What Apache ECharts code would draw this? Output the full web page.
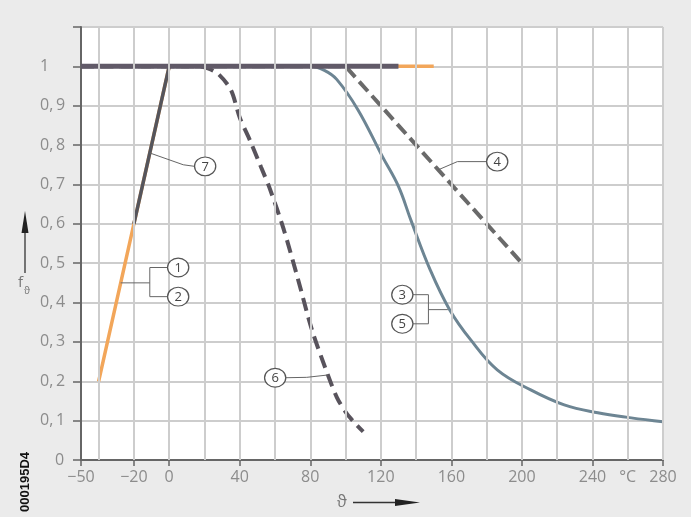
<!DOCTYPE html>
<html><head><meta charset="utf-8">
<script src="https://cdn.jsdelivr.net/npm/echarts@6/dist/echarts.min.js"></script>
<style>html,body{margin:0;padding:0;background:#ebebeb}#c{width:691px;height:517px}</style>
</head><body><div id="c"></div>
<script>
// ---- axis values ----
const xMin = -50, xMax = 280;
const xTickValues = [-50, -20, 0, 40, 80, 120, 160, 200, 240, 280];
const xLabelValues = [-50, -20, 0, 40, 80, 120, 160, 200, 240, 260, 280];
const xGridValues = [-40, -20, 0, 20, 40, 60, 80, 100, 120, 140, 160, 180, 200, 220, 240, 260, 280];
const yMin = 0, yMax = 1.1, yStep = 0.1;

// ---- curves (temperature °C, derating factor f) ----
const curve12X = [-40, 0, 150];            // ① ② orange
const curve12Y = [0.2, 1, 1];
const curve7X = [-20, 0];                  // ⑦ dark slope
const curve7Y = [0.6, 1];
const plateauX = [-50, 130];               // f = 1 plateau (⑦)
const plateauY = [1, 1];
const curve35X = [-50, 80, 88, 95, 107, 121, 130, 137, 148, 159, 171, 186, 205, 224, 243, 262, 280];
const curve35Y = [1, 1, 0.99, 0.967, 0.89, 0.77, 0.695, 0.61, 0.483, 0.382, 0.305, 0.229, 0.178, 0.14, 0.12, 0.107, 0.097];
const curve4X = [-50, 100, 200];
const curve4Y = [1, 1, 0.5];
const curve6X = [-50, 16, 22, 28, 35, 40, 46, 52, 57, 65, 73, 81, 90, 95, 100, 105, 110];
const curve6Y = [1, 1, 0.995, 0.98, 0.94, 0.87, 0.81, 0.745, 0.69, 0.585, 0.46, 0.33, 0.216, 0.16, 0.122, 0.095, 0.072];

const zip = (xs, ys) => xs.map((x, i) => [x, ys[i]]);

const FONT = 'Open Sans';
const LABEL_COLOR = '#8c8c8c';
const GRID_COLOR = '#cdcdcd';

const chart = echarts.init(document.getElementById('c'), null, {renderer: 'canvas'});

const option = {
  animation: false,
  backgroundColor: '#ebebeb',
  grid: {left: 81, right: 28, top: 27, bottom: 57, show: true, backgroundColor: '#ffffff', borderWidth: 0},
  xAxis: {
    type: 'value', min: xMin, max: xMax, interval: 10,
    axisLine: {show: true, onZero: false, lineStyle: {color: '#666', width: 2}},
    axisTick: {show: true, length: 6, customValues: xTickValues, lineStyle: {color: '#666', width: 1.5}},
    axisLabel: {
      customValues: xLabelValues, margin: 9, color: LABEL_COLOR, fontFamily: FONT, fontSize: 16,
      formatter: v => v === 260 ? '°C' : (v < 0 ? '\u2212' + Math.abs(v) : String(v))
    },
    splitLine: {show: false}
  },
  yAxis: {
    type: 'value', min: yMin, max: yMax, interval: yStep,
    axisLine: {show: true, onZero: false, lineStyle: {color: '#666', width: 2}},
    axisTick: {show: true, length: 8, lineStyle: {color: '#666', width: 1.5}},
    splitLine: {show: true, lineStyle: {color: GRID_COLOR, width: 2}},
    axisLabel: {
      margin: 41, align: 'left', color: LABEL_COLOR, fontFamily: FONT, fontSize: 16,
      formatter: v => {
        const r = Math.round(v * 10) / 10;
        if (r > 1.05) return '';
        if (r === 0) return '{z|0}';
        if (r === 1) return '1';
        return r.toFixed(1).replace('.', ',\u2009');
      },
      rich: {z: {padding: [0, 0, 0, 15], color: LABEL_COLOR, fontFamily: FONT, fontSize: 16}}
    }
  },
  series: [
    {name: 'grid', type: 'line', data: [], z: 1, silent: true,
     markLine: {silent: true, symbol: 'none', label: {show: false}, animation: false,
       lineStyle: {color: GRID_COLOR, width: 2, type: 'solid'},
       data: xGridValues.map(v => ({xAxis: v}))}},
    {name: '1/2', type: 'line', data: zip(curve12X, curve12Y), symbol: 'none', z: 2,
     lineStyle: {color: '#f2a65a', width: 3.5}},
    {name: '3/5', type: 'line', data: zip(curve35X, curve35Y), symbol: 'none', z: 3,
     smooth: 0.4, lineStyle: {color: '#6d8593', width: 3}},
    {name: '4', type: 'line', data: zip(curve4X, curve4Y), symbol: 'none', z: 3,
     lineStyle: {color: '#6a6a6a', width: 4, type: [13, 6]}},
    {name: '6', type: 'line', data: zip(curve6X, curve6Y), symbol: 'none', z: 3,
     smooth: 0.3, lineStyle: {color: '#58535c', width: 4, type: [13, 7]}},
    {name: '7', type: 'line', data: zip(curve7X, curve7Y), symbol: 'none', z: 4,
     lineStyle: {color: '#55555c', width: 3.5}},
    {name: '7 plateau', type: 'line', data: zip(plateauX, plateauY), symbol: 'none', z: 4,
     lineStyle: {color: '#615a68', width: 5}}
  ]
};
chart.setOption(option);

// ---- annotations (anchors in data units) ----
const P = (x, y) => chart.convertToPixel({seriesIndex: 1}, [x, y]);
const g = [];
const stroke = '#555';
function bubble(c, txt) {
  g.push({type: 'circle', x: c[0], y: c[1], scaleX: 1.06, scaleY: 0.94, z: 20,
    shape: {cx: 0, cy: 0, r: 10}, style: {fill: '#fff', stroke: stroke, lineWidth: 1.2}});
  g.push({type: 'text', x: c[0], y: c[1] + 0.5, z: 21,
    style: {text: txt, fill: '#444', font: '13px "' + FONT + '"', textAlign: 'center', textVerticalAlign: 'middle'}});
}
function line(pts) {
  g.push({type: 'polyline', z: 19, shape: {points: pts}, style: {stroke: '#666', lineWidth: 1, fill: null}});
}
const singles = [
  {t: '7', a: [-11, 0.78], b: [8, 0.75], c: [20.4, 0.746]},
  {t: '4', a: [152.5, 0.737], b: [163.4, 0.758], c: [186, 0.758]},
  {t: '6', a: [90, 0.216], b: [78, 0.21], c: [60.1, 0.209]}
];
singles.forEach(s => {
  const a = P(...s.a), b = P(...s.b), c = P(...s.c);
  const dir = c[0] > a[0] ? -1 : 1;
  line([a, b, [c[0] + dir * 10.5, c[1]]]);
  bubble(c, s.t);
});
const brackets = [
  {t: ['1', '2'], cx: 5.1, cy: [0.489, 0.415], bx: -11, a: [-27.5, 0.45]},
  {t: ['3', '5'], cx: 132.2, cy: [0.42, 0.346], bx: 147, a: [158, 0.382]}
];
brackets.forEach(s => {
  const c1 = P(s.cx, s.cy[0]), c2 = P(s.cx, s.cy[1]);
  const bx = P(s.bx, 0)[0];
  const a = P(...s.a);
  const dir = bx > c1[0] ? 1 : -1;
  line([[c1[0] + dir * 10.5, c1[1]], [bx, c1[1]], [bx, c2[1]], [c2[0] + dir * 10.5, c2[1]]]);
  line([[bx, a[1]], a]);
  bubble(c1, s.t[0]);
  bubble(c2, s.t[1]);
});

g.push({type: 'line', shape: {x1: 25, y1: 273, x2: 25, y2: 228}, style: {stroke: '#333', lineWidth: 1.3}});
g.push({type: 'polygon', shape: {points: [[25, 211], [21.5, 233], [28.5, 233]]}, style: {fill: '#222'}});
g.push({type: 'text', x: 18, y: 283, style: {text: 'f', fill: '#777', font: '15px "' + FONT + '"', textVerticalAlign: 'middle'}});
g.push({type: 'text', x: 24, y: 291, style: {text: 'ϑ', fill: '#777', font: '10px "' + FONT + '"', textVerticalAlign: 'middle'}});
g.push({type: 'text', x: 342, y: 502, style: {text: 'ϑ', fill: '#777', font: '16px "' + FONT + '"', textAlign: 'center', textVerticalAlign: 'middle'}});
g.push({type: 'line', shape: {x1: 353, y1: 502.5, x2: 400, y2: 502.5}, style: {stroke: '#333', lineWidth: 1.3}});
g.push({type: 'polygon', shape: {points: [[420, 502.5], [395, 499], [395, 506]]}, style: {fill: '#222'}});
g.push({type: 'text', x: 25, y: 482, rotation: Math.PI / 2,
  style: {text: '000195D4', fill: '#111', font: 'bold 13px "Liberation Sans"', textAlign: 'center', textVerticalAlign: 'middle'}});

chart.setOption({graphic: {elements: g}});
</script>
</body></html>
